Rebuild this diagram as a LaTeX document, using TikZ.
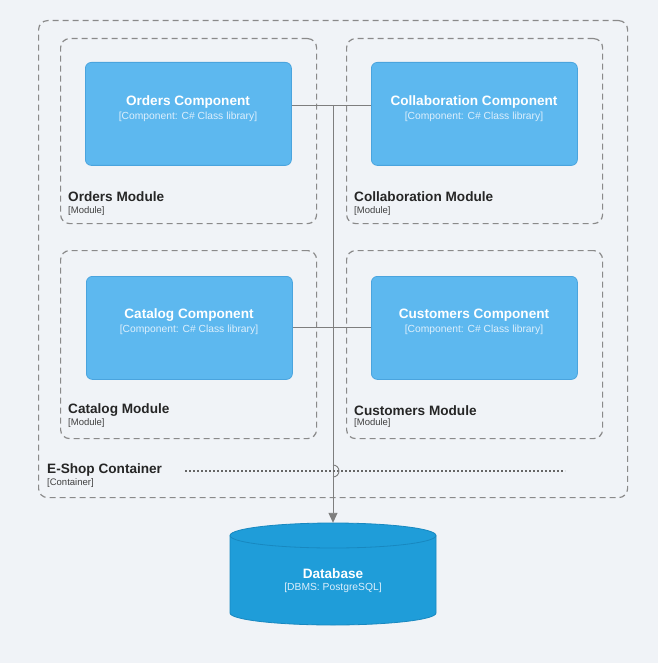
\documentclass[tikz,border=0pt]{standalone}
\usepackage{fontspec}
\setmainfont{Liberation Sans}
\usetikzlibrary{arrows.meta,calc}
\definecolor{bg}{HTML}{F0F3F7}
\definecolor{dashc}{HTML}{8A8A8A}
\definecolor{compfill}{HTML}{5DB8EF}
\definecolor{compdraw}{HTML}{4AA4DE}
\definecolor{dbfill}{HTML}{1F9DD9}
\definecolor{dbdraw}{HTML}{1888C0}
\definecolor{subtxt}{HTML}{DDEFFC}
\definecolor{linec}{HTML}{7E7E7E}
\begin{document}
\begin{tikzpicture}[x=1pt,y=-1pt,
 boundary/.style={draw=dashc, line width=1.2pt, dash pattern=on 6pt off 4pt, rounded corners=9pt, anchor=north west, inner sep=0pt},
 comp/.style={draw=compdraw, fill=compfill, line width=0.8pt, rounded corners=6pt, anchor=north west, inner sep=0pt, minimum width=206pt, minimum height=103pt},
 ctitle/.style={font=\fontsize{13.6}{16}\selectfont\bfseries, text=white, inner sep=0pt},
 csub/.style={font=\fontsize{10.3}{12}\selectfont, text=subtxt, inner sep=0pt},
 mtitle/.style={font=\fontsize{13.6}{16}\selectfont\bfseries, text=black!85, anchor=west, inner sep=0pt},
 msub/.style={font=\fontsize{9.5}{11}\selectfont, text=black!75, anchor=west, inner sep=0pt},
 conn/.style={draw=linec, line width=0.9pt},
 dotline/.style={draw=black!60, line width=1.3pt, dash pattern=on 2pt off 2pt},
]
\useasboundingbox[fill=bg] (0,0) rectangle (658,663);

% container
\node[boundary, minimum width=589pt, minimum height=477pt] (container) at (38,20) {};
\node[mtitle] (containerT) at (47,470) {E-Shop Container};
\node[msub] (containerS) at (47,483.5) {[Container]};

% modules
\node[boundary, minimum width=256pt, minimum height=185pt] (ordersM) at (60,38) {};
\node[boundary, minimum width=256pt, minimum height=185pt] (collabM) at (346,38) {};
\node[boundary, minimum width=256pt, minimum height=188pt] (catalogM) at (60,250) {};
\node[boundary, minimum width=256pt, minimum height=188pt] (customersM) at (346,250) {};

\node[mtitle] (ordersMT) at (68,196.5) {Orders Module};
\node[msub] (ordersMS) at (68,211) {[Module]};
\node[mtitle] (collabMT) at (354,196.5) {Collaboration Module};
\node[msub] (collabMS) at (354,211) {[Module]};
\node[mtitle] (catalogMT) at (68,410.5) {Catalog Module};
\node[msub] (catalogMS) at (68,423.5) {[Module]};
\node[mtitle] (customersMT) at (354,410.5) {Customers Module};
\node[msub] (customersMS) at (354,423.5) {[Module]};

% components
\node[comp] (oc) at (85,62) {};
\node[comp] (cc) at (371,62) {};
\node[comp] (kc) at (86,276) {};
\node[comp] (uc) at (371,276) {};

\node[ctitle] (ocT) at (188,102) {Orders Component};
\node[csub] (ocS) at (188,116.5) {[Component: C\# Class library]};
\node[ctitle] (ccT) at (474,102) {Collaboration Component};
\node[csub] (ccS) at (474,116.5) {[Component: C\# Class library]};
\node[ctitle] (kcT) at (189,315) {Catalog Component};
\node[csub] (kcS) at (189,329.5) {[Component: C\# Class library]};
\node[ctitle] (ucT) at (474,315) {Customers Component};
\node[csub] (ucS) at (474,329.5) {[Component: C\# Class library]};

% database
\node[inner sep=0pt, minimum width=206pt, minimum height=102pt] (db) at (333,574) {};
\filldraw[fill=dbfill, draw=dbdraw, line width=0.8pt]
  (230,535.5) -- (230,613) arc[start angle=180, end angle=360, x radius=103pt, y radius=12pt]
  -- (436,535.5) arc[start angle=0, end angle=180, x radius=103pt, y radius=12.5pt] -- cycle;
\draw[draw=dbdraw, line width=0.8pt] (230,535.5) arc[start angle=180, end angle=360, x radius=103pt, y radius=12.5pt];
\node[ctitle] (dbT) at (333,573.5) {Database};
\node[csub] (dbS) at (333,588) {[DBMS: PostgreSQL]};

% connectors
\coordinate (junction) at (333,105);
\draw[conn] ([yshift=8.5pt]oc.east) -- ([yshift=8.5pt]cc.west);
\draw[conn] (kc.east) -- (uc.west);
\draw[conn, -{Triangle[length=10pt,width=9pt]}] (junction) -- (db.north);

% dotted line with hop
\coordinate (dl1) at (185,471);
\coordinate (dl2) at (565,471);
\draw[dotline] (dl1) -- (dl2);
\draw[draw=linec, line width=0.9pt] (333,465) arc[start angle=90, end angle=-90, radius=6pt];
\end{tikzpicture}
\end{document}
